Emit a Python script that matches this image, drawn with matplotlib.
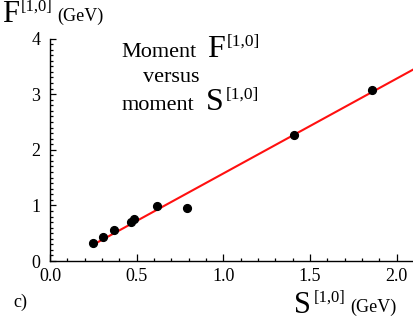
import matplotlib
matplotlib.use("Agg")
import matplotlib.pyplot as plt
from matplotlib.ticker import MultipleLocator, FormatStrFormatter

# Data
s_moment = [0.246, 0.308, 0.371, 0.466, 0.485, 0.619, 0.789, 1.410, 1.860]
f_moment = [0.33, 0.43, 0.55, 0.70, 0.75, 0.98, 0.96, 2.27, 3.08]
fit_x = [0.265, 2.10]
fit_y = [0.32, 3.45]
x_ticks = [0.0, 0.5, 1.0, 1.5, 2.0]
y_ticks = [0, 1, 2, 3, 4]

W, H = 414, 324
plt.rcParams['font.family'] = ['Liberation Serif', 'DejaVu Serif']
fig = plt.figure(figsize=(W / 100, H / 100), dpi=100)
renderer = fig.canvas.get_renderer()

def px(x, y):
    return x / W, 1 - y / H

def chain(x, y, parts):
    """parts: list of (text, fontsize, dy, gap_before) in pixels"""
    for text, size, dy, gap in parts:
        x += gap
        t = fig.text(*px(x, y + dy), text, fontsize=size, ha='left', va='baseline')
        bb = t.get_window_extent(renderer=renderer)
        x = bb.x1

ax = fig.add_axes([50 / W, (H - 261) / H, 364 / W, (261 - 38.5) / H])
ax.set_xlim(0.0, 2.1)
ax.set_ylim(0, 4)
for side in ('top', 'right'):
    ax.spines[side].set_visible(False)
for side in ('left', 'bottom'):
    ax.spines[side].set_linewidth(1.0)

ax.plot(fit_x, fit_y, color='#ff1010', lw=1.5, zorder=2, clip_on=True)
ax.plot(s_moment, f_moment, 'o', color='black', ms=5.6, zorder=3)

ax.set_xticks(x_ticks)
ax.set_yticks(y_ticks)
ax.xaxis.set_major_formatter(FormatStrFormatter('%.1f'))
ax.yaxis.set_major_formatter(FormatStrFormatter('%d'))
ax.xaxis.set_minor_locator(MultipleLocator(0.1))
ax.yaxis.set_minor_locator(MultipleLocator(0.1))
ax.tick_params(axis='both', which='both', direction='in', width=0.9)
ax.tick_params(axis='x', which='major', length=5, pad=5, labelsize=13)
ax.tick_params(axis='x', which='minor', length=2.5)
ax.tick_params(axis='y', which='major', length=4, pad=7, labelsize=13)
ax.tick_params(axis='y', which='minor', length=2.2)

# Y label
chain(2, 22, [('F', 22, 0, 0), ('[1,0]', 12, -11, 2), ('(GeV)', 13, -1, 5)])

# X label
chain(294, 313, [('S', 22, 0, 0), ('[1,0]', 12, -11, 3), ('(GeV)', 13, -1, 5)])

# panel label
fig.text(*px(13, 307), 'c)', fontsize=13, ha='left', va='baseline')

# annotation
chain(121, 57, [('Moment', 16, 0, 0), ('F', 23, 0, 11), ('[1,0]', 12.5, -11, 2)])
fig.text(*px(143, 82), 'versus', fontsize=16, ha='left', va='baseline')
chain(122, 110, [('moment', 16, 0, 0), ('S', 23, 0, 11), ('[1,0]', 12.5, -11, 2)])

fig.savefig('out.png', dpi=100)
